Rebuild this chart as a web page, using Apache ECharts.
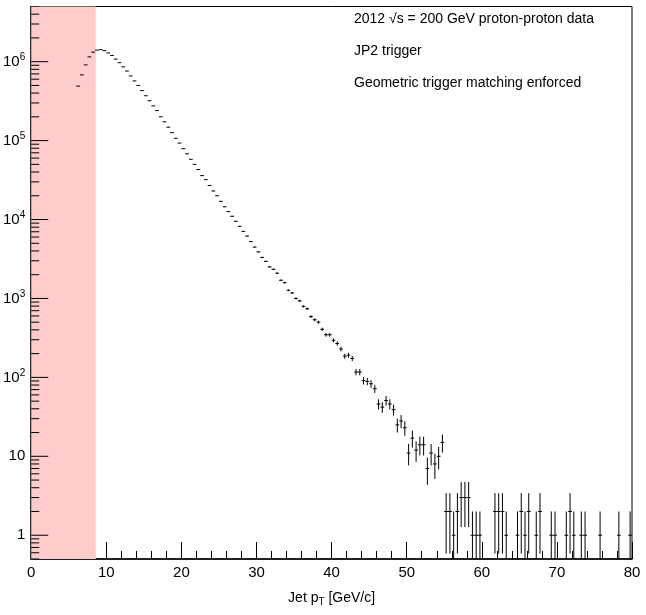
<!DOCTYPE html>
<html>
<head>
<meta charset="utf-8">
<script src="https://cdn.jsdelivr.net/npm/echarts@6/dist/echarts.min.js"></script>
<style>html,body{margin:0;padding:0;background:#fff}#chart{width:646px;height:615px}</style>
</head>
<body>
<div id="chart"></div>
<script>
// bin centres (GeV/c) and counts
const binCenters = [
  6.25,6.75,7.25,7.75,8.25,8.75,9.25,9.75,10.25,10.75,11.25,11.75,12.25,12.75,13.25,13.75,14.25,14.75,15.25,15.75,
  16.25,16.75,17.25,17.75,18.25,18.75,19.25,19.75,20.25,20.75,21.25,21.75,22.25,22.75,23.25,23.75,24.25,24.75,25.25,25.75,
  26.25,26.75,27.25,27.75,28.25,28.75,29.25,29.75,30.25,30.75,31.25,31.75,32.25,32.75,
  33.25,33.75,34.25,34.75,35.25,35.75,36.25,36.75,37.25,37.75,38.25,38.75,39.25,39.75,40.25,40.75,41.25,41.75,42.25,42.75,
  43.25,43.75,44.25,44.75,45.25,45.75,46.25,46.75,47.25,47.75,48.25,48.75,49.25,49.75,50.25,50.75,51.25,51.75,52.25,52.75,
  53.25,53.75,54.25,54.75,
  55.25,55.75,56.25,56.75,57.25,57.75,58.25,58.75,59.25,59.75,61.75,62.25,62.75,63.25,64.75,65.25,65.75,66.25,67.25,67.75,
  69.25,69.75,71.25,71.75,72.25,73.25,73.75,75.75,78.25,79.75
];
const counts = [
  490000,680000,910000,1150000,1320000,1400000,1420000,1380000,1290000,1200000,1080000,970000,860000,760000,660000,570000,500000,430000,370000,320000,
  275000,240000,200000,173000,148000,126000,107000,93000,79000,68000,58000,50000,43000,36000,32000,27000,23000,20000,17000,14500,
  12600,11000,9500,8200,7080,6170,5250,4470,3890,3310,2950,2510,2340,2090,
  1700,1585,1270,1175,1000,933,794,741,589,537,501,407,347,347,295,269,229,186,191,174,
  117,117,91,89,83,72,46,42,51,46,39,25,28,23,11,17,12,14,14,7,
  11,8,10,15,
  2,2,1,2,3,3,3,1,1,1,2,2,2,1,1,2,1,2,1,2,
  1,1,1,2,1,1,1,1,1,1
];
const binWidth = 0.5;
const triggerCut = 8.6;
const yMin = 0.5, yMax = 5e6;
const yMinorTicks = [];
for (let e = -1; e <= 6; e++) {
    for (let m = 1; m <= 9; m++) {
        let v = m * Math.pow(10, e);
        if (v >= yMin && v <= yMax) yMinorTicks.push(v);
    }
}
const infoLines = ['2012 √s = 200 GeV proton-proton data', 'JP2 trigger', 'Geometric trigger matching enforced'];

let chart = echarts.init(document.getElementById('chart'));
let pts = binCenters.map((x, i) => [x, counts[i]]);

chart.setOption({
    animation: false,
    textStyle: { fontFamily: 'Liberation Sans, Arial' },
    grid: { left: 30.5, right: 14, top: 6.5, bottom: 56, show: true, borderColor: '#000', borderWidth: 1 },
    xAxis: {
        type: 'value', min: 0, max: 80, interval: 10,
        axisLine: { onZero: false, lineStyle: { color: '#000', width: 1.5 } },
        axisTick: { inside: true, length: 17, lineStyle: { color: '#000' } },
        minorTick: { show: true, splitNumber: 5, length: 8, lineStyle: { color: '#000' } },
        splitLine: { show: false },
        axisLabel: { color: '#000', fontSize: 15, margin: 6 },
        name: '{n|Jet p}{s|T}{n| [GeV/c]}', nameLocation: 'middle', nameGap: 30,
        nameTextStyle: { rich: { n: { fontSize: 14, color: '#000' }, s: { fontSize: 10, color: '#000', verticalAlign: 'bottom', padding: [8, 0, 0, 0] } } }
    },
    yAxis: {
        type: 'log', min: yMin, max: yMax, logBase: 10,
        axisLine: { lineStyle: { color: '#000', width: 1.5 } },
        axisTick: { show: false },
        splitLine: { show: false },
        axisLabel: {
            margin: 6,
            formatter: function (v) {
                let l = Math.log10(v);
                if (Math.abs(l - Math.round(l)) > 1e-6) return '';
                l = Math.round(l);
                if (l === 0) return '{b|1}';
                if (l === 1) return '{b|10}';
                return '{b|10}{s|' + l + '}';
            },
            rich: { b: { fontSize: 15, color: '#000' }, s: { fontSize: 10, color: '#000', verticalAlign: 'top', padding: [0, 0, 8, 0] } }
        }
    },
    series: [
        {
            // pink trigger-threshold band
            type: 'line', data: [], silent: true,
            markArea: { silent: true, itemStyle: { color: '#ffcccc' }, data: [[{ xAxis: 0 }, { xAxis: triggerCut }]] }
        },
        {
            // y-axis ticks (ROOT style)
            type: 'custom', silent: true, clip: true,
            data: yMinorTicks.map(v => [0, v]),
            renderItem: function (params, api) {
                let v = api.value(1);
                let p = api.coord([0, v]);
                let l = Math.log10(v);
                let len = Math.abs(l - Math.round(l)) < 1e-6 ? 17 : 8;
                return { type: 'line', shape: { x1: p[0], y1: p[1], x2: p[0] + len, y2: p[1] }, style: { stroke: '#000', lineWidth: 1 } };
            }
        },
        {
            type: 'custom', clip: true,
            data: pts,
            renderItem: function (params, api) {
                let x = api.value(0), y = api.value(1);
                let err = Math.sqrt(y);
                let lo = Math.max(y - err, yMin), hi = y + err;
                let a = api.coord([x - binWidth / 2, y]);
                let b = api.coord([x + binWidth / 2, y]);
                let c = api.coord([x, lo]);
                let d = api.coord([x, hi]);
                return {
                    type: 'group',
                    children: [
                        { type: 'line', shape: { x1: a[0], y1: a[1], x2: b[0], y2: b[1] }, style: { stroke: '#000', lineWidth: 1 } },
                        { type: 'line', shape: { x1: c[0], y1: c[1], x2: d[0], y2: d[1] }, style: { stroke: '#000', lineWidth: 1 } }
                    ]
                };
            }
        }
    ],
    graphic: infoLines.map((t, i) => ({
        type: 'text', left: 354, top: 12 + i * 32,
        style: { text: t, fontSize: 14, fill: '#000', fontFamily: 'Liberation Sans, Arial' }
    }))
});
</script>
</body>
</html>
